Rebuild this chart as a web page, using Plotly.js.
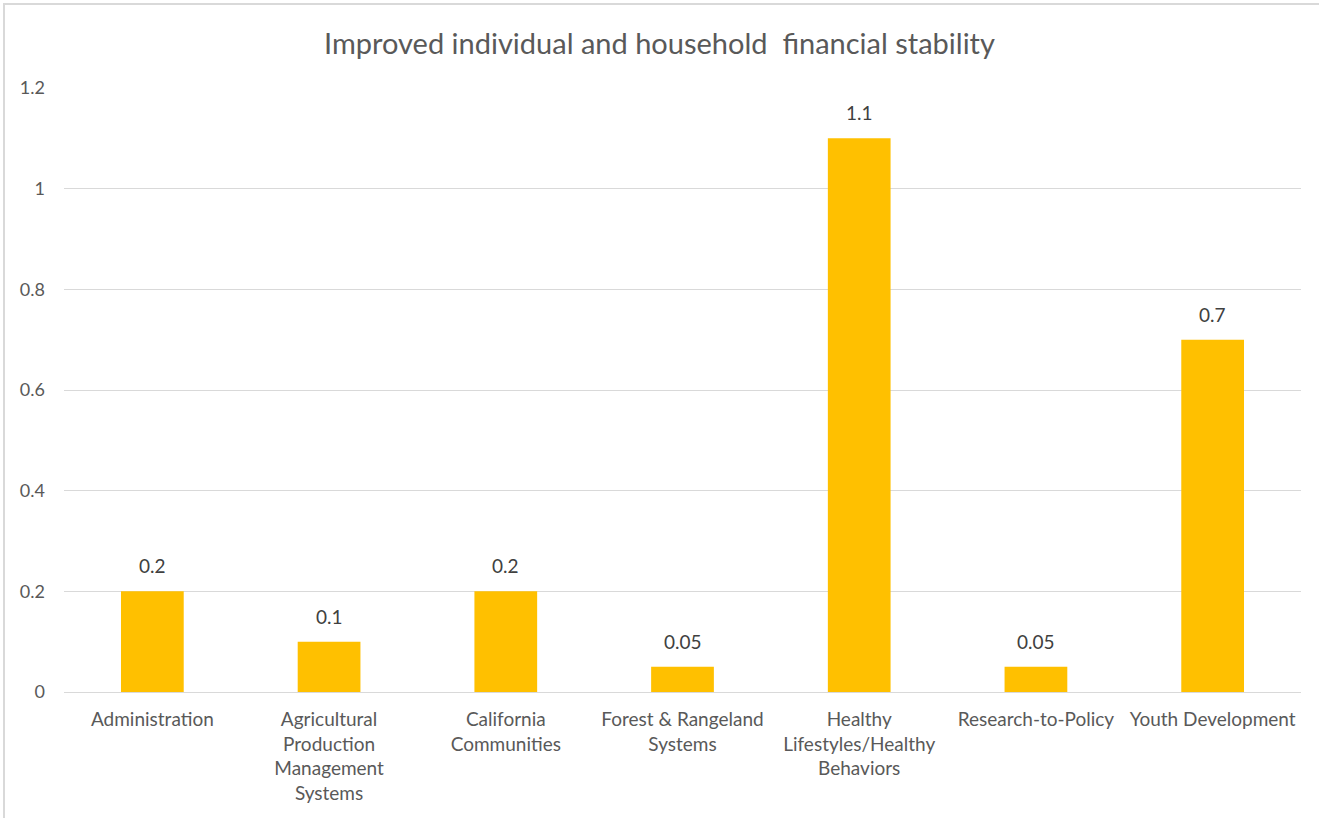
<!DOCTYPE html>
<html>
<head>
<meta charset="utf-8">
<script src="https://cdn.plot.ly/plotly-3.0.1.min.js"></script>
<style>
html,body{margin:0;padding:0;background:#fff;}
#chart{width:1319px;height:818px;}
#frame{position:absolute;left:3px;top:3px;width:1330px;height:830px;border-left:2px solid #d9d9d9;border-top:2px solid #d9d9d9;pointer-events:none;}
</style>
</head>
<body>
<div id="chart"></div>
<div id="frame"></div>
<script>
const categories = [
  "Administration",
  "Agricultural<br>Production<br>Management<br>Systems",
  "California<br>Communities",
  "Forest & Rangeland<br>Systems",
  "Healthy<br>Lifestyles/Healthy<br>Behaviors",
  "Research-to-Policy",
  "Youth Development"
];
const values = [0.2, 0.1, 0.2, 0.05, 1.1, 0.05, 0.7];
const valueLabels = ["0.2", "0.1", "0.2", "0.05", "1.1", "0.05", "0.7"];
const chartTitle = "Improved individual and household  financial stability";

const fontFam = "Lato, 'Open Sans', 'Liberation Sans', sans-serif";

const labelAnnotations = categories.map((c, i) => ({
  x: c, y: values[i], xref: "x", yref: "y",
  text: valueLabels[i], showarrow: false,
  yanchor: "bottom", yshift: 12,
  font: {family: fontFam, size: 19, color: "#404040"}
}));

Plotly.newPlot("chart", [{
  type: "bar",
  x: categories,
  y: values,
  marker: {color: "#FFC000"},
  hoverinfo: "x+y"
}], {
  width: 1319,
  height: 818,
  margin: {l: 64, r: 18, t: 88, b: 126},
  paper_bgcolor: "#ffffff",
  plot_bgcolor: "#ffffff",
  bargap: 0.645,
  showlegend: false,
  annotations: labelAnnotations,
  title: {
    text: chartTitle,
    font: {family: fontFam, size: 29, color: "#595959"},
    x: 0.5, xanchor: "center",
    y: 0.947, yanchor: "middle"
  },
  xaxis: {
    type: "category",
    tickfont: {family: fontFam, size: 19, color: "#595959"},
    showgrid: false,
    showline: false,
    ticks: "",
    ticklabelstandoff: 14,
    automargin: false
  },
  yaxis: {
    range: [0, 1.2],
    dtick: 0.2,
    tick0: 0,
    gridcolor: "#d9d9d9",
    gridwidth: 1,
    zeroline: true,
    zerolinecolor: "#d9d9d9",
    zerolinewidth: 1,
    showline: false,
    ticks: "",
    tickfont: {family: fontFam, size: 18, color: "#595959"},
    ticklabelstandoff: 18,
    automargin: false
  }
}, {displayModeBar: false, staticPlot: true});
</script>
</body>
</html>
